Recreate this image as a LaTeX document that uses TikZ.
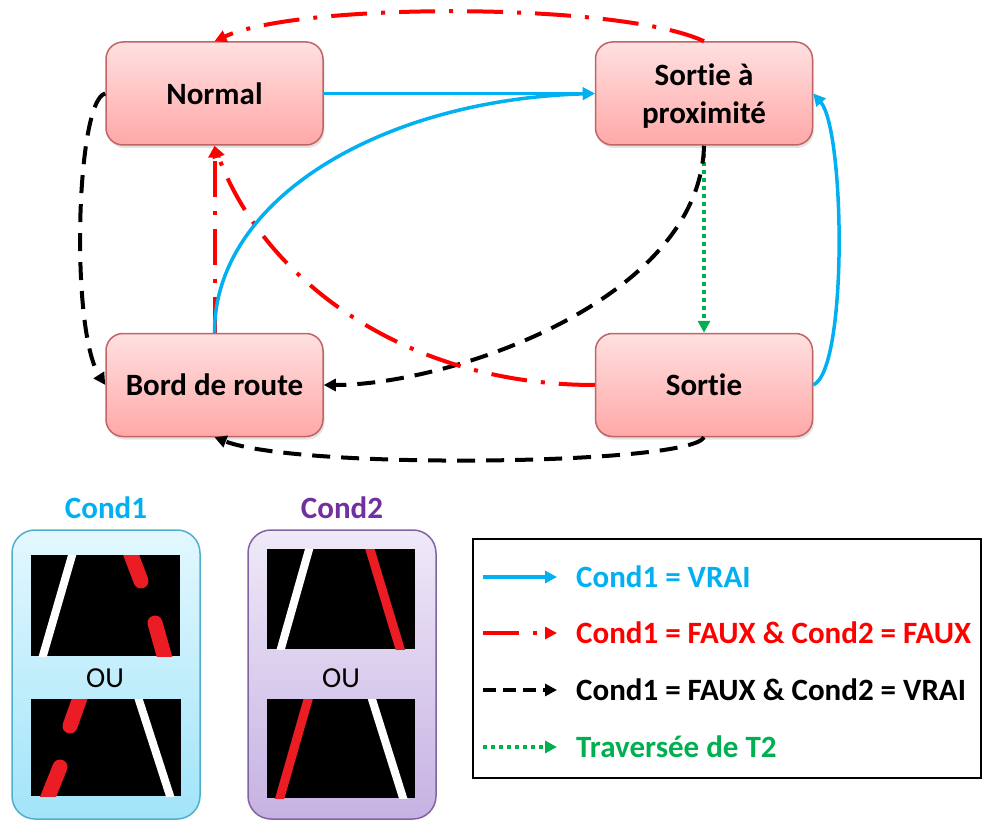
\documentclass[tikz,border=0pt]{standalone}
\usepackage{fontspec}
\setmainfont{Carlito}[Ligatures=NoCommon]
\usetikzlibrary{arrows.meta,shadows}

\definecolor{cblue}{HTML}{00B0F0}
\definecolor{cred}{HTML}{FF0000}
\definecolor{cgreen}{HTML}{00B050}
\definecolor{cpurple}{HTML}{7030A0}
\definecolor{stateedge}{HTML}{C06464}
\definecolor{statetop}{HTML}{FFE0E0}
\definecolor{statebot}{HTML}{FFA8A8}
\definecolor{aedge}{HTML}{4FB0CC}
\definecolor{atop}{HTML}{E3F8FE}
\definecolor{abot}{HTML}{A2E4F9}
\definecolor{bedge}{HTML}{8064A2}
\definecolor{btop}{HTML}{EFE9F8}
\definecolor{bbot}{HTML}{C6B2E2}
\definecolor{lanered}{HTML}{EC1C24}

\tikzset{
  state/.style={draw=stateedge, line width=1.5pt, rounded corners=17pt,
    minimum width=217pt, minimum height=103pt, inner sep=0pt,
    top color=statetop, bottom color=statebot, align=center,
    font=\fontsize{31}{38}\selectfont\bfseries,
    drop shadow={opacity=0.22, shadow xshift=1.5pt, shadow yshift=-3pt}},
  condbox/.style={line width=1.5pt, rounded corners=23pt, inner sep=0pt,
    minimum width=188pt, minimum height=289pt},
  lbl/.style={font=\fontsize{31}{38}\selectfont\bfseries, inner sep=0pt},
  orlbl/.style={font=\fontsize{29}{34}\selectfont, inner sep=0pt, anchor=base},
  tip/.style={-{Triangle[length=12pt,width=12pt]}},
  vrai/.style={draw=cblue, line width=3.5pt, tip},
  fauxfaux/.style={draw=cred, line width=4pt,
    dash pattern=on 36pt off 14pt on 4pt off 14pt, tip},
  fauxvrai/.style={draw=black, line width=4pt, dash pattern=on 18pt off 11pt, tip},
  traverse/.style={draw=cgreen, line width=4pt, dash pattern=on 4pt off 4pt, tip},
  whiteline/.style={draw=white, line width=8pt},
  redline/.style={draw=lanered, line width=9pt},
  reddash/.style={draw=lanered, line width=15pt, line cap=round},
}

\begin{document}
\begin{tikzpicture}[x=1pt,y=-1pt]
\useasboundingbox (0,0) rectangle (983,821);

% ---- states ----
\node[state] (normal) at (214.5,93.5) {Normal};
\node[state, text depth=0pt] (prox) at (704,93.5) {Sortie à\\proximité};
\node[state] (bord)   at (214.5,385)  {Bord de route};
\node[state] (sortie) at (704,385)    {Sortie};

% ---- transitions ----
\draw[traverse] (prox.south) -- (sortie.north);
\draw[fauxvrai] (prox.south) .. controls (700,300) and (450,385) .. (bord.east);
\draw[fauxvrai] (normal.west) .. controls (76,100) and (70,330) .. (bord.west);
\draw[fauxvrai] (sortie.south) .. controls (690,465) and (300,470) .. (bord.south);

\draw[fauxfaux] (prox.north) .. controls (620,2) and (300,2) .. (normal.north);
\draw[fauxfaux] (bord.north) -- (normal.south);
\draw[fauxfaux] (sortie.west) .. controls (400,385) and (262,275) .. (normal.south);

\draw[vrai] (normal.east) -- (prox.west);
\draw[vrai] (bord.north) .. controls (214,200) and (380,100) .. (prox.west);
\draw[vrai] (sortie.east) .. controls (848,370) and (845,130) .. (prox.east);

% ---- condition panels ----
\node[lbl, anchor=base, text=cblue]   (c1title) at (106,518) {Cond1};
\node[lbl, anchor=base, text=cpurple] (c2title) at (342,518) {Cond2};

\node[condbox, draw=aedge, top color=atop, bottom color=abot] (c1box) at (106,674.5) {};
\node[condbox, draw=bedge, top color=btop, bottom color=bbot] (c2box) at (342,674.5) {};

\node[orlbl] (c1or) at (105,687) {OU};
\node[orlbl] (c2or) at (341,687) {OU};

% Cond1, upper view: solid left marking, dashed right marking
\begin{scope}
  \clip (31,555) rectangle (180,656);
  \fill[black] (31,555) rectangle (180,656);
  \draw[whiteline] (73,552) -- (42,659);
  \draw[reddash] (130,552) -- (141,581);
  \draw[reddash] (155,623) -- (166,662);
\end{scope}
% Cond1, lower view: dashed left marking, solid right marking
\begin{scope}
  \clip (31,699) rectangle (181,796);
  \fill[black] (31,699) rectangle (181,796);
  \draw[whiteline] (138,697) -- (171,799);
  \draw[reddash] (81,695) -- (70,726);
  \draw[reddash] (60,767) -- (46,802);
\end{scope}
% Cond2, upper view
\begin{scope}
  \clip (267,549) rectangle (415,649);
  \fill[black] (267,549) rectangle (415,649);
  \draw[whiteline] (310,546) -- (280,652);
  \draw[redline] (369,546) -- (401,652);
\end{scope}
% Cond2, lower view
\begin{scope}
  \clip (267,699) rectangle (415,798);
  \fill[black] (267,699) rectangle (415,798);
  \draw[redline] (309,696) -- (279,801);
  \draw[whiteline] (371,696) -- (404,801);
\end{scope}

% ---- legend ----
\node[draw=black, line width=2pt, minimum width=508pt, minimum height=239pt,
      inner sep=0pt] (legend) at (727,658.5) {};

\coordinate (la1) at (483,577); \coordinate (lb1) at (557,577);
\coordinate (la2) at (483,633); \coordinate (lb2) at (557,633);
\coordinate (la3) at (483,690); \coordinate (lb3) at (557,690);
\coordinate (la4) at (483,747); \coordinate (lb4) at (557,747);

\draw[vrai] (la1) -- (lb1);
\draw[fauxfaux] (la2) -- (lb2);
\draw[fauxvrai, dash pattern=on 13pt off 7pt] (la3) -- (lb3);
\draw[traverse] (la4) -- (lb4);

\node[lbl, anchor=base west, text=cblue]  (lt1) at (576,587) {Cond1 = VRAI};
\node[lbl, anchor=base west, text=cred]   (lt2) at (576,643) {Cond1 = FAUX \& Cond2 = FAUX};
\node[lbl, anchor=base west, text=black]  (lt3) at (576,700) {Cond1 = FAUX \& Cond2 = VRAI};
\node[lbl, anchor=base west, text=cgreen] (lt4) at (576,757) {Traversée de T2};
\end{tikzpicture}
\end{document}
